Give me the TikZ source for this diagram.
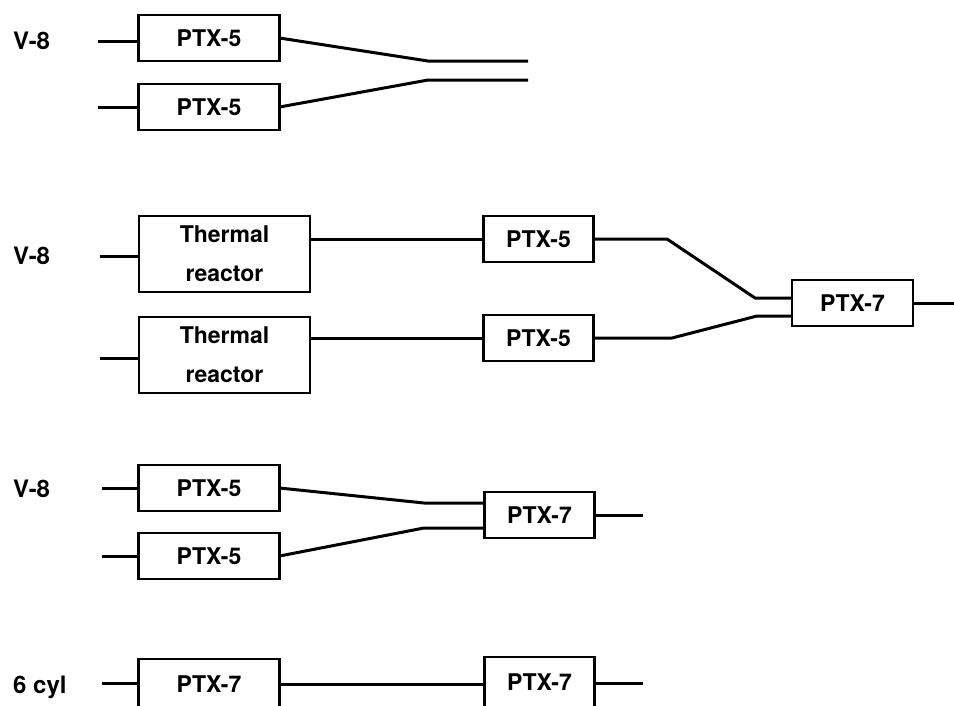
\documentclass[tikz,border=0pt]{standalone}
\usepackage{fontspec}
\setmainfont{TeX Gyre Heros}
\usetikzlibrary{positioning, calc}
\tikzset{
  unit/.style={rectangle, draw=black, line width=2.8pt, fill=white,
               minimum height=46pt, inner sep=0pt, outer sep=0pt,
               align=center, font=\fontsize{23}{39}\selectfont\bfseries},
  ptx/.style={unit, minimum width=141pt},
  ptxs/.style={unit, minimum width=110pt},
  reactor/.style={unit, minimum width=171pt, minimum height=76pt},
  engine/.style={anchor=west, inner sep=0pt, font=\fontsize{24}{28}\selectfont\bfseries},
  pipe/.style={line width=3pt},
}
\begin{document}
\begin{tikzpicture}[x=1pt, y=-1pt]
\useasboundingbox (0,0) rectangle (954,705);
\clip (0,0) rectangle (954,705);

% V-8, two converters side by side
\node[engine] (eng1) at (13,41) {V-8};
\node[ptx] (a1) at (209,38) {PTX-5};
\node[ptx, below=23pt of a1] (a2) {PTX-5};

\coordinate (in1) at (98,41);
\coordinate (in2) at (98,107);
\coordinate (k1) at (428,61);
\coordinate (k2) at (428,80);
\coordinate (out1) at (528,61);
\coordinate (out2) at (528,80);

\draw[pipe] (in1) -- (a1.west |- in1);
\draw[pipe] (in2) -- (a2.west |- in2);
\draw[pipe] (a1.east) -- (k1) -- (out1);
\draw[pipe] (a2.east) -- (k2) -- (out2);

% V-8, thermal reactors ahead of the converters
\node[engine] (eng2) at (13,256) {V-8};
\node[reactor] (t1) at (224.5,254) {Thermal\\reactor};
\node[reactor, below=25pt of t1] (t2) {Thermal\\reactor};
\node[ptxs] (p1) at (538.5,239) {PTX-5};
\node[ptxs, below=53pt of p1] (p2) {PTX-5};
\node[ptxs, minimum width=121pt] (q1) at (852.5,303) {PTX-7};

\coordinate (in3) at (100,256);
\coordinate (in4) at (100,358);
\coordinate (k3) at (667,239);
\coordinate (k4) at (755,298);
\coordinate (k5) at (672,338);
\coordinate (k6) at (757,316);
\coordinate (out3) at (960,303);

\draw[pipe] (in3) -- (t1.west |- in3);
\draw[pipe] (in4) -- (t2.west |- in4);
\draw[pipe] (t1.east |- p1.west) -- (p1.west);
\draw[pipe] (t2.east |- p2.west) -- (p2.west);
\draw[pipe] (p1.east) -- (k3) -- (k4) -- (q1.west |- k4);
\draw[pipe] (p2.east) -- (k5) -- (k6) -- (q1.west |- k6);
\draw[pipe] (q1.east) -- (out3);

% V-8, two converters into one
\node[engine] (eng3) at (13,489) {V-8};
\node[ptx] (b1) at (209,488) {PTX-5};
\node[ptx, below=22pt of b1] (b2) {PTX-5};
\node[ptxs] (r1) at (539.5,515) {PTX-7};

\coordinate (in5) at (102,488);
\coordinate (in6) at (102,556);
\coordinate (k7) at (424,503);
\coordinate (k8) at (424,528);
\coordinate (out4) at (643,515);

\draw[pipe] (in5) -- (b1.west |- in5);
\draw[pipe] (in6) -- (b2.west |- in6);
\draw[pipe] (b1.east) -- (k7) -- (r1.west |- k7);
\draw[pipe] (b2.east) -- (k8) -- (r1.west |- k8);
\draw[pipe] (r1.east) -- (out4);

% 6 cyl, converters in series
\node[engine, anchor=base west] (eng4) at (13,693) {6 cyl};
\node[ptx, minimum height=50pt] (c1) at (209,684) {PTX-7};
\node[ptxs, minimum height=50pt] (c2) at (539.5,682) {PTX-7};

\coordinate (in7) at (102,683);
\coordinate (out5) at (643,683);

\draw[pipe] (in7) -- (c1.west |- in7);
\draw[pipe] (c1.east) -- (c2.west |- c1.east);
\draw[pipe] (c2.east |- out5) -- (out5);
\end{tikzpicture}
\end{document}
